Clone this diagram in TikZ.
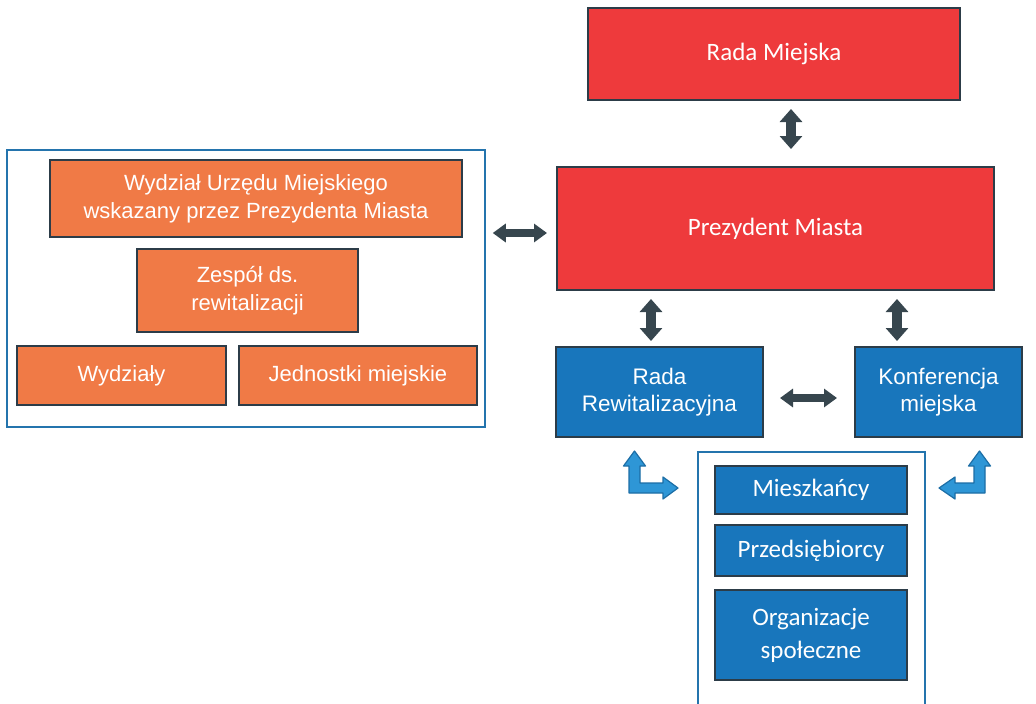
\documentclass[tikz,border=0pt]{standalone}
\usepackage{fontspec}
\setmainfont{Liberation Sans}
\newfontfamily\calfont{Carlito}
\usetikzlibrary{arrows.meta,calc}
\definecolor{rRed}{RGB}{238,58,60}
\definecolor{rOrange}{RGB}{240,122,70}
\definecolor{rBlue}{RGB}{24,118,188}
\definecolor{rEdge}{RGB}{44,60,72}
\definecolor{rFrame}{RGB}{36,116,173}
\definecolor{rArrow}{RGB}{55,70,78}
\definecolor{rLight}{RGB}{46,150,214}
\definecolor{rLightEdge}{RGB}{28,110,166}
\tikzset{
  box/.style={draw=rEdge, line width=2pt, text=white, align=center, inner sep=0pt},
  redbox/.style={box, fill=rRed, font=\calfont\fontsize{25}{30}\selectfont},
  orbox/.style={box, fill=rOrange, font=\fontsize{22}{28}\selectfont},
  bluebox/.style={box, fill=rBlue, font=\fontsize{22.5}{27}\selectfont},
  bluecal/.style={box, fill=rBlue, font=\calfont\fontsize{25}{33}\selectfont},
  frame/.style={draw=rFrame, line width=1.5pt, inner sep=0pt},
  vdarr/.style={draw=rArrow, line width=10pt, {Triangle[width=22pt,length=13pt]}-{Triangle[width=22pt,length=13pt]}},
  hdarr/.style={draw=rArrow, line width=8pt, {Triangle[width=18pt,length=13pt]}-{Triangle[width=18pt,length=13pt]}},
  bent/.style={fill=rLight, draw=rLightEdge, line width=1.2pt, line join=round}
}
\begin{document}
\begin{tikzpicture}[x=1pt,y=-1pt]
\useasboundingbox (0,0) rectangle (1036,704);
\fill[white] (0,0) rectangle (1036,704);

% containers
\node[frame, minimum width=478pt, minimum height=277pt] (LC) at (246,288.5) {};
\node[frame, minimum width=227pt, minimum height=262pt] (BC) at (811.5,583) {};

% red boxes
\node[redbox, minimum width=372pt, minimum height=92pt] (RM) at (774,54) {Rada Miejska};
\node[redbox, minimum width=437pt, minimum height=123pt] (PM) at (775.5,228.5) {Prezydent Miasta};

% orange boxes
\node[orbox, minimum width=412pt, minimum height=77pt] (WUM) at (256,198.5) {Wydział Urzędu Miejskiego\\wskazany przez Prezydenta Miasta};
\node[orbox, minimum width=221pt, minimum height=83pt] (ZR) at (247.5,290.5) {Zespół ds.\\rewitalizacji};
\node[orbox, minimum width=209pt, minimum height=59pt] (WY) at (121.5,375.5) {Wydziały};
\node[orbox, minimum width=238pt, minimum height=59pt] (JM) at (358,375.5) {Jednostki miejskie};

% blue boxes
\node[bluebox, minimum width=207pt, minimum height=90pt] (RR) at (659.5,392) {Rada\\Rewitalizacyjna};
\node[bluebox, minimum width=167pt, minimum height=90pt] (KM) at (938.5,392) {Konferencja\\miejska};
\node[bluecal, minimum width=192pt, minimum height=48pt] (MI) at (811,490) {Mieszkańcy};
\node[bluecal, minimum width=192pt, minimum height=51pt] (PR) at (811,550.5) {Przedsiębiorcy};
\node[bluecal, minimum width=192pt, minimum height=90pt] (OS) at (811,635) {Organizacje\\społeczne};

% dark double arrows
\draw[vdarr] ($(RM.south)+(17,8)$) -- ($(PM.north)+(15.5,-17)$);
\draw[hdarr] ($(LC.east |- PM.west)+(7,4.5)$) -- ($(PM.west)+(-9,4.5)$);
\draw[vdarr] ($(PM.south -| RR.north)+(-8.5,8)$) -- ($(RR.north)+(-8.5,-5)$);
\draw[vdarr] ($(PM.south -| KM.north)+(-41.5,8)$) -- ($(KM.north)+(-41.5,-5)$);
\draw[hdarr] ($(RR.east)+(16,6)$) -- ($(KM.west)+(-17,6)$);

% bent blue arrows
\draw[bent] (629,466) -- (623.5,466) -- (634.5,451) -- (645.5,466) -- (640,466) -- (640,483)
  -- (663,483) -- (663,477) -- (678,488) -- (663,499) -- (663,493) -- (629,493) -- cycle;
\draw[bent] (985,466) -- (990.5,466) -- (979.5,451) -- (968.5,466) -- (974,466) -- (974,483)
  -- (955,483) -- (955,477) -- (939,488) -- (955,499) -- (955,493) -- (985,493) -- cycle;
\end{tikzpicture}
\end{document}
